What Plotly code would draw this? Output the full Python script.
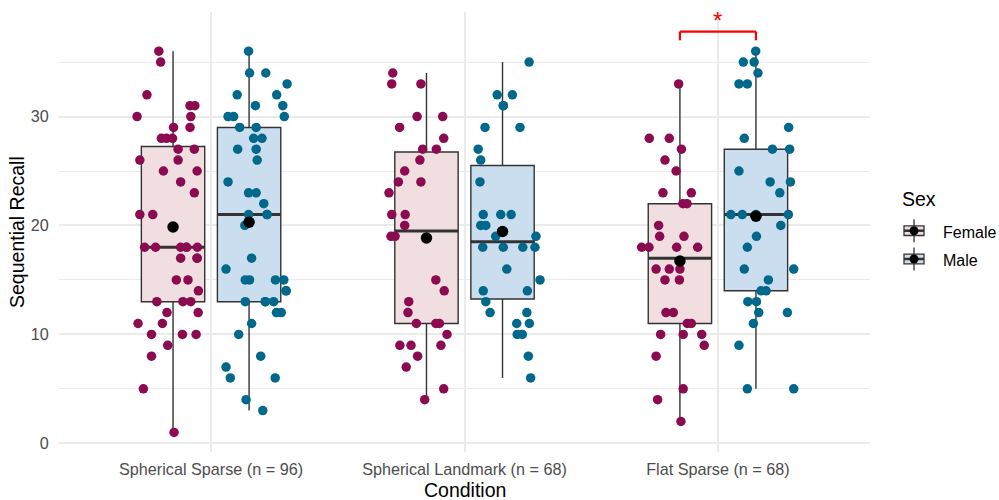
import numpy as np
import plotly.graph_objects as go

# ---- data: sequential recall scores per condition and sex ----
conditions = ["Spherical Sparse", "Spherical Landmark", "Flat Sparse"]
sexes = ["Female", "Male"]

ss_f_vals = [36, 35, 32, 31, 31, 30, 30, 29, 29, 28, 28, 28, 27, 27, 26, 26, 25, 25, 24, 23, 21, 21,
             18, 18, 18, 18, 18, 18, 17, 17, 17, 15, 15, 14, 13, 13, 13, 12, 12, 11, 11, 10, 10, 10,
             9, 8, 5, 1]
ss_f_jit = [-0.056, -0.049, -0.103, 0.067, 0.086, -0.142, 0.070, 0.002, 0.067, -0.046, -0.026, -0.002,
            0.020, 0.084, -0.131, 0.020, -0.038, 0.095, 0.030, 0.084, -0.131, -0.080,
            -0.112, -0.069, 0.030, 0.053, 0.096, 0.053, 0.030, 0.095, 0.095, 0.013, 0.059, 0.100,
            -0.064, 0.039, 0.070, -0.024, 0.099, -0.138, -0.042, -0.085, 0.037, 0.091,
            -0.021, -0.085, -0.117, 0.004]

ss_m_vals = [36, 34, 34, 33, 32, 32, 31, 31, 30, 30, 30, 29, 29, 28, 28, 27, 27, 26, 24, 23, 23, 22,
             21, 21, 21, 20, 17, 16, 15, 15, 15, 15, 14, 14, 13, 13, 13, 13, 12, 12, 11, 10, 8, 7,
             6, 6, 4, 3]
ss_m_jit = [-0.002, 0.002, 0.066, 0.150, -0.047, 0.109, 0.025, 0.133, -0.083, -0.061, 0.139,
            -0.037, 0.028, 0.018, 0.051, -0.045, 0.028, 0.032, -0.083, -0.002, 0.028, 0.058,
            -0.002, 0.071, 0.071, -0.017, 0.010, -0.091, -0.015, 0.002, 0.104, 0.137, 0.146, 0.146,
            -0.015, 0.064, 0.097, 0.064, 0.108, 0.127, 0.010, -0.041, 0.046, -0.091,
            -0.074, 0.103, -0.012, 0.054]

sl_f_vals = [34, 33, 33, 30, 30, 29, 28, 27, 27, 26, 25, 24, 24, 23, 21, 21, 20, 19, 19, 15, 14, 13,
             12, 11, 11, 11, 10, 9, 9, 9, 8, 7, 5, 4]
sl_f_jit = [-0.133, -0.137, -0.022, -0.037, 0.064, -0.106, 0.068, -0.015, 0.039, -0.026, -0.086,
            -0.111, -0.022, -0.148, -0.137, -0.084, -0.086, -0.140, -0.124, 0.037, 0.070, -0.070,
            -0.073, -0.040, 0.037, 0.051, 0.081, -0.105, -0.061, 0.057, -0.035, -0.080, 0.068, -0.007]

sl_m_vals = [35, 32, 32, 31, 31, 29, 29, 27, 26, 24, 21, 21, 21, 20, 20, 19, 19, 18, 18, 18, 18, 16,
             15, 14, 14, 13, 12, 12, 11, 11, 10, 10, 8, 6]
sl_m_jit = [0.105, -0.021, 0.039, 0.003, 0.003, -0.069, 0.069, -0.096, -0.086, -0.089, -0.076,
            -0.007, 0.034, -0.086, -0.066, -0.027, 0.132, -0.078, 0.003, 0.080, 0.128, 0.017,
            0.148, -0.076, 0.098, -0.066, -0.049, 0.096, 0.056, 0.106, 0.058, 0.078, 0.102, 0.111]

fs_f_vals = [33, 28, 28, 27, 26, 25, 23, 23, 22, 22, 20, 19, 19, 18, 18, 18, 18, 16, 16, 16, 15, 15,
             12, 12, 11, 11, 10, 10, 10, 9, 8, 5, 4, 2]
fs_f_jit = [-0.005, -0.121, -0.042, 0.006, -0.059, -0.015, -0.067, 0.045, 0.012, 0.028, -0.084,
            -0.080, 0.016, -0.151, -0.122, -0.013, 0.070, -0.094, -0.042, 0.000, -0.059, -0.002,
            -0.055, -0.026, 0.029, 0.045, -0.076, 0.013, 0.086, 0.096, -0.094, 0.013, -0.088, 0.004]

fs_m_vals = [36, 35, 35, 34, 33, 33, 29, 28, 27, 27, 25, 24, 24, 23, 21, 21, 21, 21, 20, 19, 18, 16,
             16, 15, 14, 14, 13, 13, 12, 12, 11, 9, 5, 5]
fs_m_jit = [-0.001, -0.050, -0.007, 0.008, -0.067, -0.034, 0.129, -0.046, 0.065, 0.133, -0.067,
            0.056, 0.136, 0.094, -0.099, -0.054, 0.128, 0.000, 0.098, 0.002, -0.034, -0.046,
            0.149, 0.049, 0.020, 0.040, -0.032, 0.002, 0.011, 0.124, -0.010, -0.067, -0.034, 0.149]

groups = {
    ("Spherical Sparse", "Female"): (ss_f_vals, ss_f_jit),
    ("Spherical Sparse", "Male"): (ss_m_vals, ss_m_jit),
    ("Spherical Landmark", "Female"): (sl_f_vals, sl_f_jit),
    ("Spherical Landmark", "Male"): (sl_m_vals, sl_m_jit),
    ("Flat Sparse", "Female"): (fs_f_vals, fs_f_jit),
    ("Flat Sparse", "Male"): (fs_m_vals, fs_m_jit),
}

# significant pairwise comparison and its marker
sig_condition = "Flat Sparse"
sig_label = "*"

# ---- styling ----
point_color = {"Female": "#8B0A50", "Male": "#00688B"}
box_fill = {"Female": "#F0DEE1", "Male": "#CBDEEF"}
box_line = "#333333"
grid_color = "#EBEBEB"
font_family = "Liberation Sans, Arial, sans-serif"
dodge = 0.15
box_w = 0.25

fig = go.Figure()

medians, points, means = [], [], []
for ci, cond in enumerate(conditions, start=1):
    for sex in sexes:
        vals = np.array(groups[(cond, sex)][0], dtype=float)
        jit = np.array(groups[(cond, sex)][1], dtype=float)
        cx = ci + (-dodge if sex == "Female" else dodge)
        q1, med, q3 = np.percentile(vals, [25, 50, 75])
        iqr = q3 - q1
        lo = vals[vals >= q1 - 1.5 * iqr].min()
        hi = vals[vals <= q3 + 1.5 * iqr].max()
        fig.add_trace(go.Box(
            x=[cx], q1=[q1], median=[med], q3=[q3], lowerfence=[lo], upperfence=[hi],
            width=box_w, fillcolor=box_fill[sex], line=dict(color=box_line, width=1.4),
            whiskerwidth=0, boxpoints=False, showlegend=False, hoverinfo="skip"))
        medians.append(go.Scatter(
            x=[cx - box_w / 2, cx + box_w / 2], y=[med, med], mode="lines",
            line=dict(color=box_line, width=3), showlegend=False, hoverinfo="skip"))
        points.append(go.Scatter(
            x=cx + jit, y=vals, mode="markers",
            marker=dict(color=point_color[sex], size=9.5), showlegend=False, name=sex))
        means.append(go.Scatter(
            x=[cx], y=[vals.mean()], mode="markers",
            marker=dict(color="black", size=11.5), showlegend=False, hoverinfo="skip"))

for tr in medians + points + means:
    fig.add_trace(tr)

# tick labels with group sizes
ticktext = [f"{c} (n = {len(groups[(c, 'Female')][0]) + len(groups[(c, 'Male')][0])})"
            for c in conditions]

# significance bracket between the two boxes of the flagged condition
si = conditions.index(sig_condition) + 1
bx0, bx1 = si - dodge, si + dodge
by, btick = 37.8, 37.0
shapes = [
    dict(type="line", xref="x", yref="y", x0=bx0, x1=bx1, y0=by, y1=by,
         line=dict(color="red", width=2.2)),
    dict(type="line", xref="x", yref="y", x0=bx0, x1=bx0, y0=btick, y1=by,
         line=dict(color="red", width=2.2)),
    dict(type="line", xref="x", yref="y", x0=bx1, x1=bx1, y0=btick, y1=by,
         line=dict(color="red", width=2.2)),
]
annotations = [dict(x=si, y=by, xref="x", yref="y", text=sig_label, showarrow=False,
                    yanchor="bottom", yshift=-4,
                    font=dict(color="red", size=24, family=font_family))]

# ---- pixel helpers for text and legend placed in paper coordinates ----
L, R, T, B = 59, 870, 12, 452


def px_x(px):
    return (px - L) / (R - L)


def px_y(py):
    return (B - py) / (B - T)


# axis titles
annotations.append(dict(x=0.5, y=px_y(489.5), xref="paper", yref="paper", text="Condition",
                        showarrow=False, xanchor="center", yanchor="middle",
                        font=dict(size=19.5, color="black", family=font_family)))
annotations.append(dict(x=px_x(17), y=0.5, xref="paper", yref="paper", text="Sequential Recall",
                        showarrow=False, xanchor="center", yanchor="middle", textangle=-90,
                        font=dict(size=19.5, color="black", family=font_family)))

# legend
annotations.append(dict(x=px_x(900), y=px_y(199), xref="paper", yref="paper", text="Sex",
                        showarrow=False, xanchor="left", yanchor="middle",
                        font=dict(size=19.5, color="black", family=font_family)))
for sex, cy in zip(sexes, [230.7, 259.0]):
    kx0, kx1, kxm = 904, 924, 914
    shapes += [
        dict(type="line", xref="paper", yref="paper", x0=px_x(kxm), x1=px_x(kxm),
             y0=px_y(cy - 11.5), y1=px_y(cy + 11.5), line=dict(color=box_line, width=1.3)),
        dict(type="rect", xref="paper", yref="paper", x0=px_x(kx0), x1=px_x(kx1),
             y0=px_y(cy + 4.8), y1=px_y(cy - 4.8), fillcolor=box_fill[sex],
             line=dict(color=box_line, width=1.3)),
        dict(type="line", xref="paper", yref="paper", x0=px_x(kx0), x1=px_x(kx1),
             y0=px_y(cy), y1=px_y(cy), line=dict(color=box_line, width=2.5)),
        dict(type="circle", xref="paper", yref="paper", x0=px_x(kxm - 4.5), x1=px_x(kxm + 4.5),
             y0=px_y(cy + 4.5), y1=px_y(cy - 4.5), fillcolor="black", line=dict(width=0)),
    ]
    annotations.append(dict(x=px_x(941), y=px_y(cy + 1.5), xref="paper", yref="paper", text=sex,
                            showarrow=False, xanchor="left", yanchor="middle",
                            font=dict(size=16, color="black", family=font_family)))

fig.update_layout(
    width=999, height=500,
    margin=dict(l=L, r=999 - R, t=T, b=500 - B, autoexpand=False),
    paper_bgcolor="white", plot_bgcolor="white",
    font=dict(family=font_family),
    shapes=shapes, annotations=annotations,
    showlegend=False,
    xaxis=dict(
        range=[0.4, 3.6], tickmode="array", tickvals=[1, 2, 3], ticktext=ticktext,
        showgrid=True, gridcolor=grid_color, gridwidth=1.5, zeroline=False, showline=False,
        ticks="outside", ticklen=3, tickcolor="rgba(0,0,0,0)", automargin=False,
        tickfont=dict(size=16.2, color="#4D4D4D"),
    ),
    yaxis=dict(
        range=[-0.8, 39.6], tickmode="array", tickvals=[0, 10, 20, 30],
        showgrid=True, gridcolor=grid_color, gridwidth=1.5, zeroline=False, showline=False,
        minor=dict(tickmode="array", tickvals=[5, 15, 25, 35], showgrid=True,
                   gridcolor=grid_color, gridwidth=0.8),
        ticks="outside", ticklen=6, tickcolor="rgba(0,0,0,0)", automargin=False,
        tickfont=dict(size=16.2, color="#4D4D4D"),
    ),
)

fig.write_html("out.html")
